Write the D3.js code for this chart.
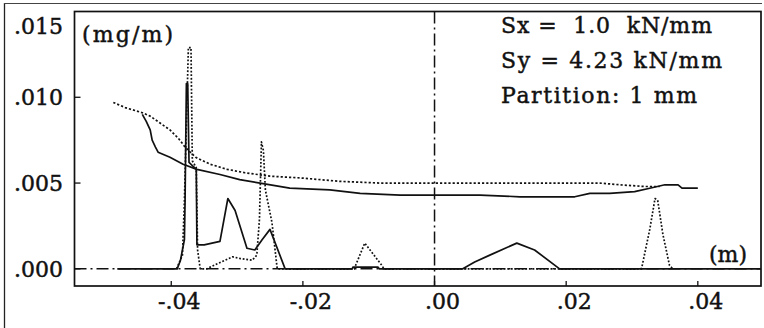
<!DOCTYPE html>
<html>
<head>
<meta charset="utf-8">
<script src="https://cdn.jsdelivr.net/npm/d3@7"></script>
<style>
  html, body { margin: 0; padding: 0; background: #fff; }
  svg { display: block; }
  text { font-family: "DejaVu Serif", "Liberation Serif", serif; fill: #111; stroke: #111; stroke-width: 0.45px; }
</style>
</head>
<body>
<svg id="chart" width="764" height="328"></svg>
<script>
// ---- data (x in m, y in mg/m) ----
const xTicks = [-0.04, -0.02, 0.00, 0.02, 0.04];
const xTickLabels = ["-.04", "-.02", ".00", ".02", ".04"];
const yTicks = [0.000, 0.005, 0.010, 0.015];
const yTickLabels = [".000", ".005", ".010", ".015"];
const legendLines = ["Sx =  1.0  kN/mm", "Sy = 4.23 kN/mm", "Partition: 1 mm"];

// upper (cumulative) curves
const solidUpper = [
  [-0.0444, 0.0090], [-0.0438, 0.0086], [-0.0432, 0.0081], [-0.0429, 0.0075],
  [-0.0424, 0.0071], [-0.0420, 0.0068], [-0.0402, 0.0065], [-0.0382, 0.0061],
  [-0.0361, 0.0058], [-0.0326, 0.0055], [-0.0296, 0.0052], [-0.0265, 0.0050],
  [-0.0220, 0.0047], [-0.0159, 0.0046], [-0.0113, 0.0044], [-0.0052, 0.0043],
  [0.0000, 0.0043], [0.0069, 0.0043], [0.0130, 0.0042], [0.0213, 0.0042],
  [0.0236, 0.0044], [0.0266, 0.0044], [0.0304, 0.0045], [0.0327, 0.0047],
  [0.0350, 0.0049], [0.0370, 0.0049], [0.0376, 0.0047], [0.0400, 0.0047]
];
const dottedUpper = [
  [-0.0488, 0.0097], [-0.0470, 0.0094], [-0.0444, 0.0091], [-0.0432, 0.0089],
  [-0.0417, 0.0085], [-0.0402, 0.0081], [-0.0389, 0.0076], [-0.0379, 0.0071],
  [-0.0363, 0.0065], [-0.0341, 0.0061], [-0.0315, 0.0058], [-0.0288, 0.0056],
  [-0.0250, 0.0054], [-0.0204, 0.0053], [-0.0144, 0.0051], [-0.0083, 0.0050],
  [0.0000, 0.0050], [0.0099, 0.0050], [0.0251, 0.0050], [0.0281, 0.0049],
  [0.0319, 0.0048], [0.0342, 0.0048]
];
// lower (distribution) curves
const solidLower = [
  [-0.0482, 0], [-0.0391, 0], [-0.0386, 0.0005], [-0.0383, 0.0011], [-0.0380, 0.0017],
  [-0.0379, 0.0040], [-0.0377, 0.0108], [-0.0375, 0.0108], [-0.0373, 0.0062],
  [-0.0362, 0.0058], [-0.0361, 0.0014], [-0.0350, 0.0014], [-0.0326, 0.0016],
  [-0.0314, 0.0041], [-0.0303, 0.0034], [-0.0285, 0.0012], [-0.0273, 0.0011],
  [-0.0262, 0.0017], [-0.0250, 0.0023], [-0.0227, 0], [-0.0125, 0],
  [-0.0124, 0.0001], [-0.0086, 0.0001], [-0.0084, 0], [0.0043, 0],
  [0.0061, 0.0004], [0.0084, 0.0008], [0.0125, 0.0015], [0.0152, 0.0011],
  [0.0190, 0], [0.0496, 0]
];
const dottedLower = [
  [-0.0392, 0], [-0.0383, 0.0008], [-0.0380, 0.0040], [-0.0374, 0.0129],
  [-0.0370, 0.0129], [-0.0368, 0.0063], [-0.0362, 0.0059], [-0.0360, 0.0011],
  [-0.0356, 0], [-0.0346, 0], [-0.0330, 0.0003], [-0.0307, 0.0007],
  [-0.0295, 0.0006], [-0.0277, 0.0005], [-0.0270, 0.0008], [-0.0266, 0.0029],
  [-0.0263, 0.0074], [-0.0260, 0.0069], [-0.0257, 0.0046], [-0.0247, 0.0027],
  [-0.0239, 0], [-0.0122, 0], [-0.0121, 0.0001], [-0.0106, 0.0015],
  [-0.0080, 0.0002], [-0.0077, 0], [0.0314, 0], [0.0315, 0.0001],
  [0.0327, 0.0023], [0.0335, 0.0041], [0.0339, 0.0040], [0.0347, 0.0020],
  [0.0357, 0.0002], [0.0362, 0]
];

// ---- layout ----
const svg = d3.select("#chart");
const L = 74.5, R = 761, T = 11.5, B = 286;
const x = d3.scaleLinear().domain([-0.0547, 0.0496]).range([L, R]);
const y = d3.scaleLinear().domain([-0.001, 0.015]).range([B, T]);

// outer frame (left + top)
svg.append("line").attr("x1", 4.5).attr("x2", 4.5).attr("y1", 3).attr("y2", 328)
  .attr("stroke", "#222").attr("stroke-width", 1.3);
svg.append("line").attr("x1", 4).attr("x2", 762).attr("y1", 3.5).attr("y2", 3.5)
  .attr("stroke", "#444").attr("stroke-width", 1.2);

// plot frame
svg.append("rect").attr("x", L).attr("y", T).attr("width", R - L).attr("height", B - T)
  .attr("fill", "none").attr("stroke", "#111").attr("stroke-width", 1.7);

// zero reference lines (dash-dot)
svg.append("line").attr("x1", L).attr("x2", R).attr("y1", y(0)).attr("y2", y(0))
  .attr("stroke", "#111").attr("stroke-width", 1.5).attr("stroke-dasharray", "12,4,2,4");
svg.append("line").attr("x1", x(0)).attr("x2", x(0)).attr("y1", T).attr("y2", B)
  .attr("stroke", "#111").attr("stroke-width", 1.5).attr("stroke-dasharray", "12,4,2,4");

// ticks (inward)
const g = svg.append("g");
g.selectAll(".xt").data(xTicks).enter().append("line")
  .attr("x1", d => x(d)).attr("x2", d => x(d)).attr("y1", B).attr("y2", B - 5)
  .attr("stroke", "#111").attr("stroke-width", 1.3);
g.selectAll(".yt").data(yTicks.slice(0, 3)).enter().append("line")
  .attr("x1", L).attr("x2", L + 6).attr("y1", d => y(d)).attr("y2", d => y(d))
  .attr("stroke", "#111").attr("stroke-width", 1.3);

// tick labels
g.selectAll(".xl").data(xTicks).enter().append("text")
  .attr("x", d => x(d) + 8).attr("y", B + 23)
  .attr("text-anchor", "middle").attr("font-size", 22)
  .text((d, i) => xTickLabels[i]);
g.selectAll(".yl").data(yTicks).enter().append("text")
  .attr("x", 63).attr("y", d => Math.max(y(d), 26) + 8)
  .attr("text-anchor", "end").attr("font-size", 22)
  .text((d, i) => yTickLabels[i]);

// curves
const line = d3.line().x(d => x(d[0])).y(d => y(d[1]));
const curves = [
  { data: solidUpper, dash: null },
  { data: dottedUpper, dash: "2.2,2" },
  { data: solidLower, dash: null },
  { data: dottedLower, dash: "1.8,1.8" }
];
svg.append("g").selectAll("path").data(curves).enter().append("path")
  .attr("d", d => line(d.data))
  .attr("fill", "none").attr("stroke", "#111").attr("stroke-width", 1.7)
  .attr("stroke-linejoin", "round")
  .attr("stroke-dasharray", d => d.dash);

// axis unit labels
svg.append("text").attr("x", 82).attr("y", 42).attr("font-size", 22)
  .attr("textLength", 91).attr("lengthAdjust", "spacing").text("(mg/m)");
svg.append("text").attr("x", 709).attr("y", 262).attr("font-size", 22)
  .text("(m)");

// legend / parameters
const legendW = [211, 221, 196];
svg.append("g").selectAll("text").data(legendLines).enter().append("text")
  .attr("x", 501).attr("y", (d, i) => 33 + i * 35)
  .attr("font-size", 22)
  .attr("textLength", (d, i) => legendW[i]).attr("lengthAdjust", "spacing")
  .attr("xml:space", "preserve").style("white-space", "pre")
  .text(d => d);
</script>
</body>
</html>
